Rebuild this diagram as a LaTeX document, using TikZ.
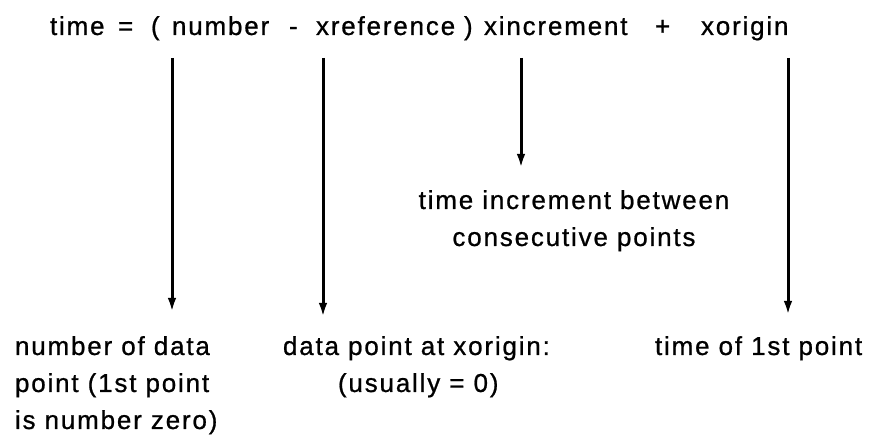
\documentclass[tikz,border=0pt]{standalone}
\usepackage{fontspec}
\setmainfont{Liberation Sans}[LetterSpace=7,FakeBold=0.8]
\usetikzlibrary{arrows.meta}
\begin{document}
\begin{tikzpicture}[x=1pt,y=1pt,
  txt/.style={inner sep=0pt, outer sep=0pt, font=\fontsize{26}{37}\selectfont},
  lbl/.style={txt, anchor=base west, align=left},
  arr/.style={line width=3pt, -{Latex[length=14pt,width=8.5pt]}}]
\useasboundingbox (0,0) rectangle (887,439);
% formula
\node[lbl] (ftime) at (50,404) {time};
\node[lbl] (feq) at (118,404) {=};
\node[lbl] (flp) at (151,404) {(};
\node[lbl] (fnum) at (172,404) {number};
\node[lbl] (fminus) at (289,404) {-};
\node[lbl] (fxref) at (316,404) {xreference};
\node[lbl] (frp) at (464,404) {)};
\node[lbl] (fxinc) at (484,404) {xincrement};
\node[lbl] (fplus) at (655,404) {+};
\node[lbl] (fxor) at (701,404) {xorigin};
% middle label
\node[txt, anchor=base, align=center] (mid) at (574,193) {time increment between\\consecutive points};
% bottom labels
\node[lbl] (lnum) at (15,10) {number of data\\point (1st point\\is number zero)};
\node[lbl] (ldat) at (283,84) {data point at xorigin:};
\node[lbl] (lusu) at (338,47) {(usually = 0)};
\node[lbl] (ltim) at (655,84) {time of 1st point};
% arrows
\coordinate (a1s) at (172,381); \coordinate (a1e) at (172,127);
\coordinate (a2s) at (323,381); \coordinate (a2e) at (323,122);
\coordinate (a3s) at (521,381); \coordinate (a3e) at (521,271);
\coordinate (a4s) at (788,381); \coordinate (a4e) at (788,124);
\draw[arr] (a1s) -- (a1e);
\draw[arr] (a2s) -- (a2e);
\draw[arr] (a3s) -- (a3e);
\draw[arr] (a4s) -- (a4e);
\end{tikzpicture}
\end{document}
